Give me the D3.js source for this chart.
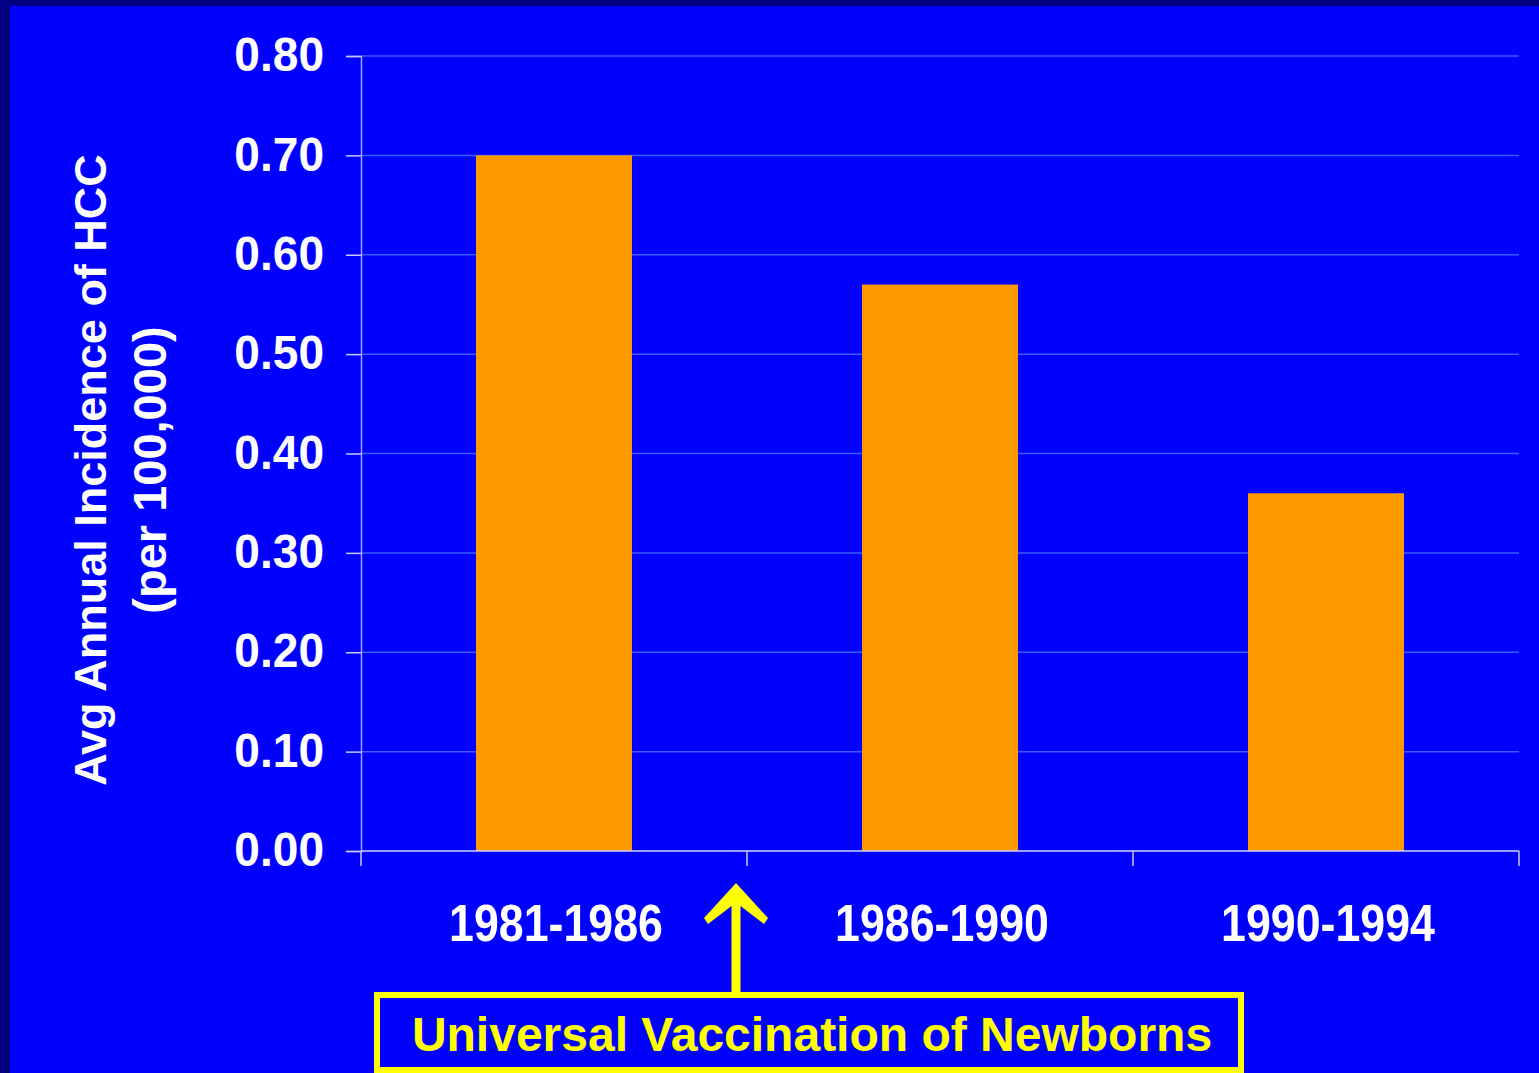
<!DOCTYPE html>
<html>
<head>
<meta charset="utf-8">
<script src="https://cdn.jsdelivr.net/npm/d3@7"></script>
<style>
    html, body { margin: 0; padding: 0; background: #0000ff; overflow: hidden; }
    text { font-family: "Liberation Sans", Arial, sans-serif; font-weight: bold; }
</style>
</head>
<body>
<div id="chart"></div>
<script>
// Chart data
const periods = ["1981-1986", "1986-1990", "1990-1994"];
const incidence = [0.70, 0.57, 0.36];
const yTicks = [0, 0.1, 0.2, 0.3, 0.4, 0.5, 0.6, 0.7, 0.8];
const yTitle = ["Avg Annual Incidence of HCC", "(per 100,000)"];
const note = "Universal Vaccination of Newborns";

const data = periods.map((p, i) => ({ period: p, value: incidence[i] }));

// Page size
const width = 1539;
const height = 1073;

const svg = d3.select("#chart")
    .append("svg")
    .attr("width", width)
    .attr("height", height);

// Background with the dark slide border on top and left
svg.append("rect").attr("width", width).attr("height", height).attr("fill", "#0000ff");
svg.append("rect").attr("width", width).attr("height", 6).attr("fill", "#000080");
svg.append("rect").attr("width", 10).attr("height", height).attr("fill", "#000080");

// Scales
const x = d3.scaleBand()
    .domain(periods)
    .range([361, 1519])
    .paddingInner(0.596)
    .paddingOuter(0.298);

const y = d3.scaleLinear()
    .domain([0, 0.8])
    .range([851, 56]);

// Gridlines
svg.append("g")
    .selectAll("line")
    .data(yTicks.filter(d => d > 0))
    .enter()
    .append("line")
    .attr("x1", x.range()[0])
    .attr("x2", x.range()[1])
    .attr("y1", d => y(d))
    .attr("y2", d => y(d))
    .attr("stroke", "#3a5cff")
    .attr("stroke-width", 1.5);

// Bars
svg.append("g")
    .selectAll("rect")
    .data(data)
    .enter()
    .append("rect")
    .attr("x", d => x(d.period))
    .attr("y", d => y(d.value))
    .attr("width", x.bandwidth())
    .attr("height", d => y(0) - y(d.value))
    .attr("fill", "#ff9900");

// Y axis
const yAxis = svg.append("g")
    .attr("transform", `translate(${x.range()[0]},0)`)
    .call(d3.axisLeft(y).tickValues(yTicks).tickFormat(d3.format(".2f")).tickSize(15).tickPadding(22));
yAxis.select(".domain").attr("stroke", "#a0a0ff").attr("stroke-width", 1.5);
yAxis.selectAll(".tick line").attr("stroke", "#c8c8ff").attr("stroke-width", 1.5);
yAxis.selectAll(".tick text")
    .attr("fill", "#ffffff")
    .style("font-size", "49px")
    .attr("font-family", null)
    .attr("dy", "0.3em")
    // slight horizontal squeeze, anchored at the right edge of the label
    .attr("transform", "translate(-37,0) scale(0.94,1) translate(37,0)");

// X axis line with ticks at the band boundaries
const bounds = d3.range(periods.length + 1).map(i => x.range()[0] + i * x.step());
const xAxis = svg.append("g");
xAxis.append("line")
    .attr("x1", x.range()[0]).attr("x2", x.range()[1])
    .attr("y1", y(0)).attr("y2", y(0))
    .attr("stroke", "#d0d0ff").attr("stroke-width", 1.5);
xAxis.selectAll(".xtick")
    .data(bounds)
    .enter()
    .append("line")
    .attr("class", "xtick")
    .attr("x1", d => d).attr("x2", d => d)
    .attr("y1", y(0)).attr("y2", y(0) + 15)
    .attr("stroke", "#c8c8ff").attr("stroke-width", 1.5);

// X labels
svg.append("g")
    .selectAll("text")
    .data(periods)
    .enter()
    .append("text")
    .attr("transform", d => `translate(${x(d) + x.bandwidth() / 2 + 2},941) scale(0.86,1)`)
    .attr("text-anchor", "middle")
    .attr("fill", "#ffffff")
    .style("font-size", "52px")
    .text(d => d);

// Y axis title (two lines, rotated)
svg.append("g")
    .selectAll("text")
    .data(yTitle)
    .enter()
    .append("text")
    .attr("transform", (d, i) => `translate(${106 + i * 60},470) rotate(-90)`)
    .attr("text-anchor", "middle")
    .attr("fill", "#ffffff")
    .style("font-size", (d, i) => i === 0 ? "45px" : "47px")
    .text(d => d);

// Annotation: arrow from the box to the first period boundary
const arrowX = bounds[1] - 11;
const boxTop = 995;
svg.append("path")
    .attr("d", `M${arrowX},883 L${arrowX + 32},918 L${arrowX + 28},924 L${arrowX + 4.5},906
        L${arrowX + 4.5},${boxTop} L${arrowX - 4.5},${boxTop} L${arrowX - 4.5},906
        L${arrowX - 28},924 L${arrowX - 32},918 Z`)
    .attr("fill", "#ffff00");

// Annotation box
svg.append("rect")
    .attr("x", 377)
    .attr("y", boxTop)
    .attr("width", 864)
    .attr("height", 75)
    .attr("fill", "none")
    .attr("stroke", "#ffff00")
    .attr("stroke-width", 6);

svg.append("text")
    .attr("x", 812)
    .attr("y", 1051)
    .attr("text-anchor", "middle")
    .attr("fill", "#ffff00")
    .style("font-size", "48px")
    .text(note);
</script>
</body>
</html>
